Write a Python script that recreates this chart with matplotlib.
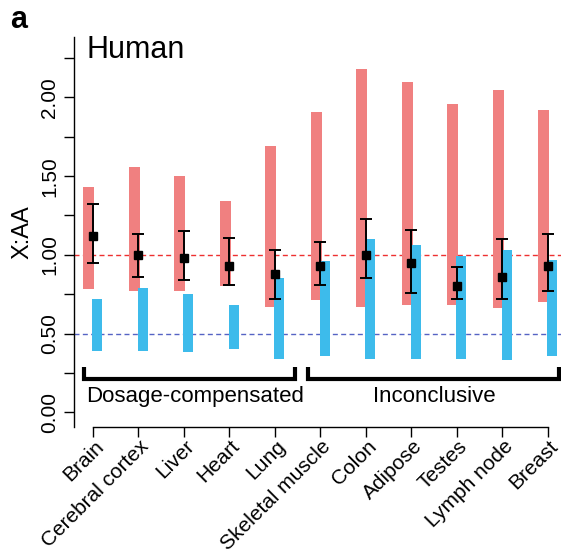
import matplotlib
matplotlib.use("Agg")
import matplotlib.pyplot as plt
import matplotlib.transforms as mtransforms
import numpy as np

plt.rcParams["font.family"] = ["Liberation Sans", "DejaVu Sans"]

tissues = ["Brain", "Cerebral cortex", "Liver", "Heart", "Lung", "Skeletal muscle",
           "Colon", "Adipose", "Testes", "Lymph node", "Breast"]
# expected range if X is upregulated (red) and if not (blue)
red_low = [0.78, 0.77, 0.77, 0.80, 0.67, 0.71, 0.67, 0.68, 0.68, 0.66, 0.70]
red_high = [1.43, 1.56, 1.50, 1.34, 1.69, 1.91, 2.18, 2.10, 1.96, 2.05, 1.92]
blue_low = [0.39, 0.39, 0.38, 0.40, 0.34, 0.36, 0.34, 0.34, 0.34, 0.33, 0.36]
blue_high = [0.72, 0.79, 0.75, 0.68, 0.85, 0.96, 1.10, 1.06, 0.99, 1.03, 0.97]
# observed X:AA ratio with interval
ratio = [1.12, 1.00, 0.98, 0.93, 0.88, 0.93, 1.00, 0.95, 0.80, 0.86, 0.93]
ratio_low = [0.95, 0.86, 0.84, 0.81, 0.72, 0.81, 0.85, 0.76, 0.72, 0.72, 0.77]
ratio_high = [1.32, 1.13, 1.15, 1.11, 1.03, 1.08, 1.23, 1.16, 0.92, 1.10, 1.13]
groups = ["Dosage-compensated", "Inconclusive"]

W, H = 561, 555
fig = plt.figure(figsize=(W / 100, H / 100), dpi=100)

def fx(px):
    return px / W

def fy(py):
    return 1 - py / H

ax = fig.add_axes([fx(74), fy(426.7), fx(561) - fx(74), fy(36.7) - fy(426.7)])
ax.set_xlim(-0.411, 10.29)
ax.set_ylim(-0.092, 2.386)

x = np.arange(len(tissues))
rl, rh = np.array(red_low), np.array(red_high)
bl, bh = np.array(blue_low), np.array(blue_high)
ax.bar(x - 0.089, rh - rl, bottom=rl, width=0.235, color="#F08080", zorder=2)
ax.bar(x + 0.101, bh - bl, bottom=bl, width=0.22, color="#3DBBEB", zorder=2)

r = np.array(ratio)
yerr = np.vstack([r - np.array(ratio_low), np.array(ratio_high) - r])
ax.errorbar(x, r, yerr=yerr, fmt="s", color="black", ms=6, elinewidth=1.4,
            capsize=4, capthick=1.4, zorder=4)

ax.axhline(1.0, color="#EE3030", lw=1.0, dashes=(3.6, 2.4), zorder=1)
ax.axhline(0.5, color="#5563C4", lw=1.0, dashes=(3.6, 2.4), zorder=1)

for s in ["top", "right"]:
    ax.spines[s].set_visible(False)
ax.spines["left"].set_linewidth(1.0)
ax.spines["bottom"].set_linewidth(1.0)
ax.spines["bottom"].set_bounds(0, len(tissues) - 1)

yt = np.arange(0, 2.26, 0.25)
ax.set_yticks(yt)
ax.set_yticklabels([f"{v:.2f}" if abs(v * 2 - round(v * 2)) < 1e-9 else "" for v in yt],
                   rotation=90, va="center", fontsize=15)
ax.tick_params(axis="y", length=7.5, width=1.0, pad=3)
ax.set_ylabel("X:AA", fontsize=17, labelpad=5)

ax.set_xticks(x)
ax.set_xticklabels(tissues, rotation=45, ha="right", va="top",
                   rotation_mode="anchor", fontsize=15)
ax.tick_params(axis="x", length=7.5, width=1.0, pad=1)
lift = mtransforms.ScaledTranslation(1 / 100, 2 / 100, fig.dpi_scale_trans)
for lab in ax.get_xticklabels():
    lab.set_transform(lab.get_transform() + lift)

# group brackets
bracket_x = [(-0.185, 4.44), (4.725, 10.24)]
label_x = [2.24, 7.50]
for (x0, x1), lx, name in zip(bracket_x, label_x, groups):
    ax.plot([x0, x0, x1, x1], [0.285, 0.209, 0.209, 0.285], color="black", lw=3,
            solid_joinstyle="miter", solid_capstyle="butt", clip_on=False, zorder=3)
    ax.text(lx, 0.10, name, ha="center", va="center", fontsize=16)

ax.text(-0.14, 2.30, "Human", ha="left", va="center", fontsize=22)
fig.text(fx(10), fy(28), "a", fontsize=22, fontweight="bold", ha="left", va="baseline")

fig.savefig("out.png", dpi=100)
